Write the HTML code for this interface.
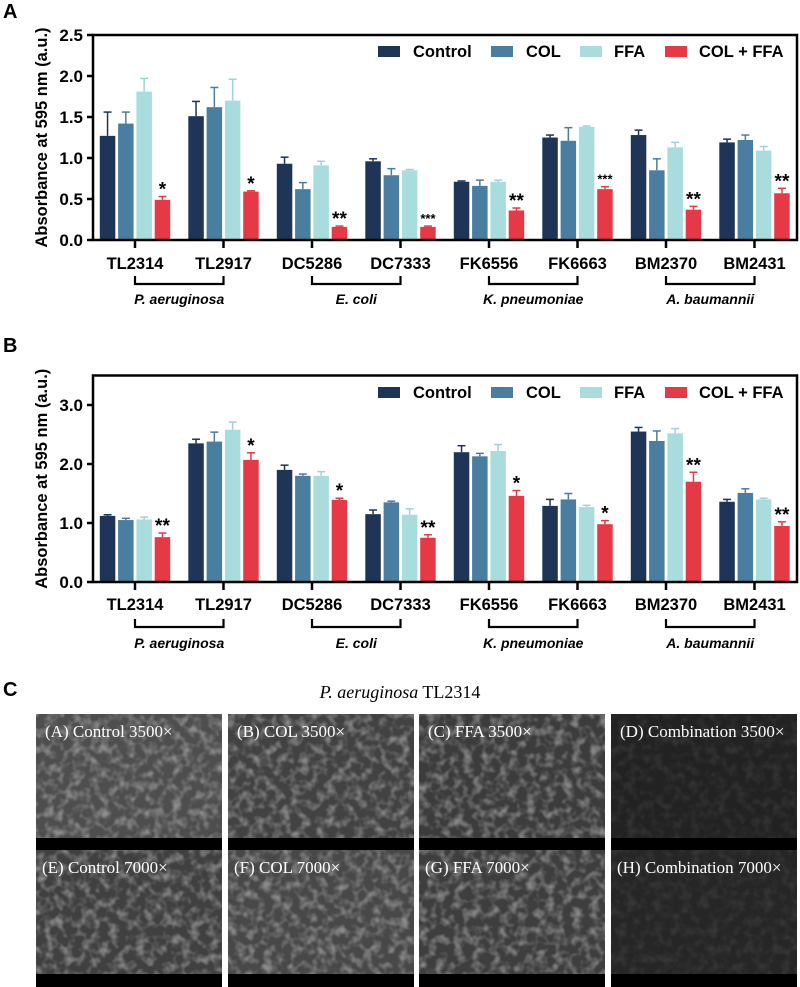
<!DOCTYPE html>
<html><head><meta charset="utf-8"><style>
html,body{margin:0;padding:0;background:#fff;}
svg{display:block;font-family:"Liberation Sans",Arial,sans-serif;}
</style></head><body>
<svg id="fig" width="800" height="987" viewBox="0 0 800 987" xmlns="http://www.w3.org/2000/svg">
<defs>
<filter id="semTex" x="0" y="0" width="100%" height="100%">
<feTurbulence type="fractalNoise" baseFrequency="0.11" numOctaves="2" seed="3" result="n"/>
<feColorMatrix in="n" type="matrix" values="0 0 0 0 0.6  0 0 0 0 0.6  0 0 0 0 0.6  0 0 0 2.4 -1.0" result="m"/>
<feComposite in="m" in2="SourceGraphic" operator="in"/>
</filter>
</defs>
<g id="chartA"></g>
<g id="chartB"></g>
<g id="panelC">
<text x="3" y="696" font-size="20" font-weight="bold">C</text>
<text x="400" y="698" font-size="18" text-anchor="middle" font-family="'Liberation Serif',serif"><tspan font-style="italic">P. aeruginosa</tspan> TL2314</text>
</g>
</svg>
<script>
const categories=["TL2314","TL2917","DC5286","DC7333","FK6556","FK6663","BM2370","BM2431"];
const species=["P. aeruginosa","E. coli","K. pneumoniae","A. baumannii"];
const seriesNames=["Control","COL","FFA","COL + FFA"];
const colors=["#1f3557","#4a7ea0","#a9dcdc","#e63946"];
const errColors=["#1f3557","#4a7ea0","#9fd3d3","#e63946"];
const aControl=[1.27,1.51,0.93,0.96,0.71,1.25,1.28,1.19];
const aCOL=[1.42,1.62,0.62,0.79,0.66,1.21,0.85,1.22];
const aFFA=[1.81,1.70,0.91,0.85,0.71,1.38,1.13,1.09];
const aCombo=[0.49,0.59,0.16,0.16,0.36,0.62,0.37,0.57];
const aErrControl=[0.29,0.18,0.08,0.03,0.01,0.03,0.06,0.04];
const aErrCOL=[0.14,0.24,0.08,0.08,0.07,0.16,0.14,0.06];
const aErrFFA=[0.16,0.26,0.05,0.01,0.02,0.01,0.06,0.05];
const aErrCombo=[0.04,0.01,0.01,0.01,0.03,0.03,0.04,0.06];
const aStars=["*","*","**","***","**","***","**","**"];
const aTicks=[0,0.5,1.0,1.5,2.0,2.5];
const aTickLabels=["0.0","0.5","1.0","1.5","2.0","2.5"];
const bControl=[1.12,2.35,1.90,1.15,2.20,1.29,2.55,1.36];
const bCOL=[1.05,2.38,1.80,1.35,2.13,1.40,2.39,1.51];
const bFFA=[1.06,2.58,1.80,1.14,2.22,1.27,2.52,1.40];
const bCombo=[0.76,2.07,1.39,0.75,1.46,0.98,1.70,0.95];
const bErrControl=[0.02,0.07,0.08,0.07,0.11,0.11,0.07,0.04];
const bErrCOL=[0.03,0.16,0.03,0.02,0.05,0.10,0.17,0.07];
const bErrFFA=[0.04,0.13,0.07,0.10,0.11,0.03,0.08,0.02];
const bErrCombo=[0.07,0.12,0.03,0.05,0.09,0.06,0.16,0.07];
const bStars=["**","*","*","**","*","*","**","**"];
const bTicks=[0,1,2,3];
const bTickLabels=["0.0","1.0","2.0","3.0"];

const NS="http://www.w3.org/2000/svg";
function mk(tag,attrs,parent){const e=document.createElementNS(NS,tag);for(const k in attrs)e.setAttribute(k,attrs[k]);parent.appendChild(e);return e;}

function drawChart(g,cfg){
  const yScale=v=>cfg.y0-v*cfg.ppu;
  const xScale=i=>135+i*88.5;
  const L=93,R=797,top=yScale(cfg.max);
  const lt=mk('text',{x:3,y:cfg.letterY,'font-size':20,'font-weight':'bold'},g);lt.textContent=cfg.letter;
  
  
  const yt=mk('text',{x:0,y:0,'font-size':16.5,'font-weight':'bold','text-anchor':'middle',transform:`translate(47,${(top+cfg.y0)/2}) rotate(-90)`},g);
  yt.textContent="Absorbance at 595 nm (a.u.)";
  
  
  cfg.ticks.forEach((t,i)=>{
    const y=yScale(t);
    const tk=mk('line',{x1:L-6,x2:L,y1:y,y2:y,stroke:'#000','stroke-width':2.5},g);
    
    
    const tl=mk('text',{x:L-10,y:y+6,'font-size':17,'font-weight':'bold','text-anchor':'end'},g);
    tl.textContent=cfg.tickLabels[i];
    
    
  });
  const series=[cfg.s0,cfg.s1,cfg.s2,cfg.s3];
  const errs=[cfg.e0,cfg.e1,cfg.e2,cfg.e3];
  const bw=15.5,step=18.3;
  categories.forEach((c,i)=>{
    const cx=xScale(i);
    for(let k=0;k<4;k++){
      const bx=cx+(k-1.5)*step;
      const v=series[k][i],e=errs[k][i];
      const yt2=yScale(v+e);
      const el=mk('line',{x1:bx,x2:bx,y1:yScale(v),y2:yt2,stroke:errColors[k],'stroke-width':1.5},g);
      
      
      const ec=mk('line',{x1:bx-4,x2:bx+4,y1:yt2,y2:yt2,stroke:errColors[k],'stroke-width':1.5},g);
      
      
      const r=mk('rect',{x:bx-bw/2,y:yScale(v),width:bw,height:cfg.y0-yScale(v),fill:colors[k]},g);
      
      
    }
    const bx=cx+1.5*step;
    const st=cfg.stars[i];
    const sm=st.length===3;
    const s=mk('text',{x:bx,y:yScale(cfg.s3[i]+cfg.e3[i])-(sm?3:1),'font-size':sm?13:19,'font-weight':'bold','text-anchor':'middle'},g);
    s.textContent=st;
    
    
    const xt=mk('line',{x1:cx,x2:cx,y1:cfg.y0,y2:cfg.y0+8,stroke:'#000','stroke-width':2.5},g);
    
    
    const xl=mk('text',{x:cx,y:cfg.labY,'font-size':16.5,'font-weight':'bold','text-anchor':'middle'},g);
    xl.textContent=c;
    
    
  });
  species.forEach((sp,j)=>{
    const x1=xScale(2*j),x2=xScale(2*j+1);
    const p=mk('path',{d:`M${x1},${cfg.brY-8} V${cfg.brY} H${x2} V${cfg.brY-8}`,fill:'none',stroke:'#000','stroke-width':2.2},g);
    
    
    const t=mk('text',{x:(x1+x2)/2,y:cfg.spY,'font-size':14,'font-weight':'bold','font-style':'italic','text-anchor':'middle'},g);
    t.textContent=sp;
    
    
  });
  const fr=mk('rect',{x:L,y:top,width:R-L,height:cfg.y0-top,fill:'none',stroke:'#000','stroke-width':2.5},g);
  
  
  const lx=[378,491,580,665],tx=[413,526,614,699];
  seriesNames.forEach((n,k)=>{
    const r=mk('rect',{x:lx[k],y:cfg.legY-5,width:22,height:11,fill:colors[k]},g);
    
    
    const t=mk('text',{x:tx[k],y:cfg.legY+6,'font-size':16.5,'font-weight':'bold'},g);
    t.textContent=n;
    
    
  });
}
drawChart(document.getElementById('chartA'),{letter:'A',letterY:18,y0:240,ppu:82,max:2.5,ticks:aTicks,tickLabels:aTickLabels,
  s0:aControl,s1:aCOL,s2:aFFA,s3:aCombo,e0:aErrControl,e1:aErrCOL,e2:aErrFFA,e3:aErrCombo,stars:aStars,labY:269,brY:284,spY:304,legY:51});
drawChart(document.getElementById('chartB'),{letter:'B',letterY:352,y0:582,ppu:59,max:3.5,ticks:bTicks,tickLabels:bTickLabels,
  s0:bControl,s1:bCOL,s2:bFFA,s3:bCombo,e0:bErrControl,e1:bErrCOL,e2:bErrFFA,e3:bErrCombo,stars:bStars,labY:610,brY:627,spY:648,legY:392});

const semLabels=["(A) Control 3500×","(B) COL 3500×","(C) FFA 3500×","(D) Combination 3500×","(E) Control 7000×","(F) COL 7000×","(G) FFA 7000×","(H) Combination 7000×"];
const semTones=["#4e4e4e","#424242","#3c3c3c","#222","#404040","#484848","#3e3e3e","#262626"];
const pc=document.getElementById('panelC');
const px=[36,228,419,611],py=[714,850];
semLabels.forEach((lab,i)=>{
  const x=px[i%4],y=py[Math.floor(i/4)],w=186,h=137;
  const g=mk('g',{},pc);
  
  
  mk('rect',{x:x,y:y,width:w,height:h,fill:semTones[i]},g);
  mk('rect',{x:x,y:y,width:w,height:h,fill:'#fff',filter:'url(#semTex)',opacity:(i%4===3)?0.1:0.5},g);
  mk('rect',{x:x,y:y+h-13,width:w,height:13,fill:'#000'},g);
  const t=mk('text',{x:x+(i<4?9:6),y:y+23,'font-size':17,fill:'#fff','font-family':"'Liberation Serif',serif"},g);
  t.textContent=lab;
  
  
});
</script>
</body></html>
